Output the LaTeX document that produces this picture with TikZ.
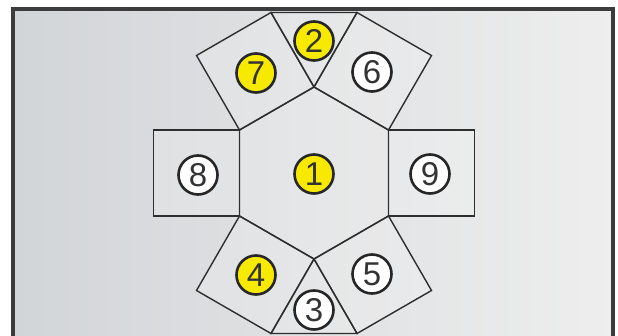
\documentclass[tikz,border=0pt]{standalone}
\usepackage{fontspec}
\setmainfont{Liberation Sans}
\usetikzlibrary{calc}
\definecolor{edgec}{HTML}{2E2E2E}
\definecolor{framec}{HTML}{3C3C3C}
\definecolor{bgl}{HTML}{D2D5D8}
\definecolor{bgr}{HTML}{EEEEEE}
\definecolor{yel}{HTML}{F7EA00}
\definecolor{digit}{HTML}{333333}
\tikzset{
  tile/.style={draw=edgec, line width=1.4pt, fill=white, fill opacity=0.18, line join=miter},
  badge/.style={circle, draw=black!85, line width=2.6pt, minimum size=39pt, inner sep=0pt,
    text=digit, font=\fontsize{33}{33}\selectfont},
  ybadge/.style={badge, fill=yel},
  wbadge/.style={badge, fill=white},
  frameline/.style={draw=framec, line width=4pt}
}
\begin{document}
\begin{tikzpicture}[x=1pt,y=-1pt]
\useasboundingbox (0,0) rectangle (618,336);
\clip (0,0) rectangle (618,336);
\fill[white] (0,0) rectangle (618,336);
\shade[left color=bgl, right color=bgr] (13,9) rectangle (613,345);
\draw[frameline] (13,9) rectangle (613,345);
% hexagon vertices
\coordinate (T)  at (314,87);
\coordinate (UR) at (388.5,130);
\coordinate (LR) at (388.5,216);
\coordinate (B)  at (314,259);
\coordinate (LL) at (239.5,216);
\coordinate (UL) at (239.5,130);
% outer points
\coordinate (TLa) at (196.5,55.5);
\coordinate (TLb) at (271,12.5);
\coordinate (TRa) at (357,12.5);
\coordinate (TRb) at (431.5,55.5);
\coordinate (L8a) at (153.5,130);
\coordinate (L8b) at (153.5,216);
\coordinate (R9a) at (474.5,130);
\coordinate (R9b) at (474.5,216);
\coordinate (BLa) at (196.5,290.5);
\coordinate (BLb) at (271,333.5);
\coordinate (BRa) at (357,333.5);
\coordinate (BRb) at (431.5,290.5);
% tiles
\draw[tile] (T) -- (UR) -- (LR) -- (B) -- (LL) -- (UL) -- cycle;
\draw[tile] (UL) -- (TLa) -- (TLb) -- (T) -- cycle;
\draw[tile] (T) -- (TRa) -- (TRb) -- (UR) -- cycle;
\draw[tile] (T) -- (TLb) -- (TRa) -- cycle;
\draw[tile] (UL) -- (L8a) -- (L8b) -- (LL) -- cycle;
\draw[tile] (UR) -- (R9a) -- (R9b) -- (LR) -- cycle;
\draw[tile] (LL) -- (BLa) -- (BLb) -- (B) -- cycle;
\draw[tile] (B) -- (BRa) -- (BRb) -- (LR) -- cycle;
\draw[tile] (B) -- (BLb) -- (BRa) -- cycle;
% badges
\node[ybadge] (n1) at (314,174) {1};
\node[ybadge] (n2) at (314,41) {2};
\node[wbadge] (n3) at (314,310) {3};
\node[ybadge] (n4) at (256,275) {4};
\node[wbadge] (n5) at (372,274) {5};
\node[wbadge] (n6) at (372,72) {6};
\node[ybadge] (n7) at (256,73) {7};
\node[wbadge] (n8) at (198,175) {8};
\node[wbadge] (n9) at (430,174) {9};
\end{tikzpicture}
\end{document}
